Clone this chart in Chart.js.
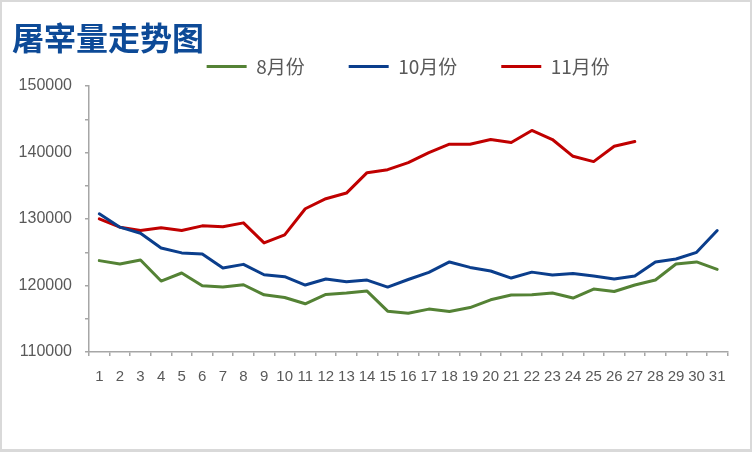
<!DOCTYPE html>
<html>
<head>
<meta charset="utf-8">
<script src="https://cdn.jsdelivr.net/npm/chart.js@4"></script>
<style>
  html, body { margin: 0; padding: 0; background: #ffffff; }
  #wrap { position: relative; width: 752px; height: 452px; overflow: hidden; }
  #frame { position: absolute; left: 0; top: 0; width: 752px; height: 452px; box-sizing: border-box;
           border: 2px solid #d9d9d9; border-bottom-width: 3px; pointer-events: none; }
  canvas { position: absolute; left: 0; top: 0; }
</style>
</head>
<body>
<div id="wrap">
  <canvas id="c" width="752" height="452"></canvas>
  <div id="frame"></div>
</div>
<script>
const chartTitle = '屠宰量走势图';
const days = ['1','2','3','4','5','6','7','8','9','10','11','12','13','14','15','16','17','18','19','20','21','22','23','24','25','26','27','28','29','30','31'];
const seriesNames = ['8月份', '10月份', '11月份'];
const aug = [123740, 123240, 123840, 120670, 121880, 119960, 119760, 120110, 118600, 118200, 117250, 118650, 118860, 119160, 116140, 115840, 116450, 116080, 116680, 117850, 118560, 118600, 118860, 118110, 119460, 119100, 120070, 120820, 123240, 123540, 122430];
const oct = [130780, 128770, 127860, 125650, 124900, 124750, 122630, 123180, 121620, 121320, 120070, 120970, 120570, 120820, 119760, 120900, 121970, 123540, 122720, 122180, 121120, 122010, 121570, 121820, 121420, 120970, 121420, 123540, 123990, 124990, 128260];
const nov = [130020, 128770, 128260, 128670, 128260, 128970, 128820, 129420, 126400, 127610, 131540, 133050, 133900, 136970, 137420, 138480, 139990, 141250, 141250, 141950, 141500, 143310, 141950, 139430, 138630, 140940, 141650];
const yMin = 110000, yMax = 150000, yStep = 5000, yLabelStep = 10000;

const colors = ['#548235', '#0B3E8C', '#C00000'];
const axisColor = '#A6A6A6';
const textColor = '#595959';

const titlePlugin = {
  id: 'titleText',
  afterDraw(chart) {
    const ctx = chart.ctx;
    ctx.save();
    ctx.fillStyle = '#0D4A97';
    ctx.font = 'bold 32px "Noto Sans CJK SC"';
    ctx.textAlign = 'left';
    ctx.textBaseline = 'middle';
    ctx.fillText(chartTitle, 12, 38);
    ctx.restore();
  }
};

new Chart(document.getElementById('c'), {
  type: 'line',
  data: {
    labels: days,
    datasets: [
      { label: seriesNames[0], data: aug, borderColor: colors[0], backgroundColor: colors[0], borderWidth: 3 },
      { label: seriesNames[1], data: oct, borderColor: colors[1], backgroundColor: colors[1], borderWidth: 3 },
      { label: seriesNames[2], data: nov, borderColor: colors[2], backgroundColor: colors[2], borderWidth: 3 }
    ]
  },
  options: {
    responsive: false,
    animation: false,
    devicePixelRatio: 1,
    events: [],
    layout: { padding: { left: 12, right: 24.5, top: 13, bottom: 0 } },
    elements: {
      line: { borderWidth: 3, tension: 0, borderCapStyle: 'round', borderJoinStyle: 'round' },
      point: { radius: 0, hoverRadius: 0 }
    },
    plugins: {
      title: { display: false },
      tooltip: { enabled: false },
      legend: {
        display: true,
        position: 'top',
        fullSize: false,
        labels: {
          usePointStyle: true,
          pointStyle: 'line',
          pointStyleWidth: 40,
          padding: 44,
          color: textColor,
          font: { family: '"Noto Sans CJK SC"', size: 19 }
        }
      }
    },
    scales: {
      x: {
        offset: true,
        grid: { display: true, drawOnChartArea: false, drawTicks: true, tickLength: 4, offset: true, color: axisColor, lineWidth: 1.5 },
        border: { display: true, color: axisColor, width: 1.5 },
        ticks: { autoSkip: false, maxRotation: 0, minRotation: 0, padding: 12, color: textColor, font: { family: '"Liberation Sans"', size: 15 } },
        afterFit(scale) { scale.height = 100; }
      },
      y: {
        min: yMin,
        max: yMax,
        grid: { display: true, drawOnChartArea: false, drawTicks: true, tickLength: 4, color: axisColor, lineWidth: 1.5 },
        border: { display: true, color: axisColor, width: 1.5 },
        ticks: {
          stepSize: yStep,
          padding: 13,
          color: textColor,
          font: { family: '"Liberation Sans"', size: 16 },
          callback(v) { return (v % yLabelStep === 0) ? String(v) : ''; }
        },
        afterFit(scale) { scale.width = 77; }
      }
    }
  },
  plugins: [titlePlugin]
});
</script>
</body>
</html>
